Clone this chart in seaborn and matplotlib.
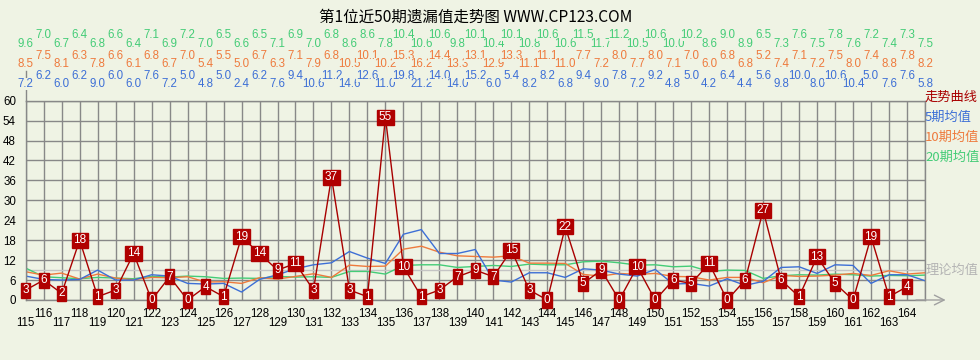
import matplotlib.pyplot as plt
from matplotlib.lines import Line2D
import matplotlib.transforms as mtransforms
import numpy as np
import pandas as pd
import seaborn as sns

# --- data ---
periods = list(range(115, 165))
miss = [3, 6, 2, 18, 1, 3, 14, 0, 7, 0, 4, 1, 19, 14, 9, 11, 3, 37, 3, 1,
        55, 10, 1, 3, 7, 9, 7, 15, 3, 0, 22, 5, 9, 0, 10, 0, 6, 5, 11, 0,
        6, 27, 6, 1, 13, 5, 0, 19, 1, 4]

# moving averages are shown one period ahead (115 .. 165)
ma_periods = list(range(115, 166))
ma5 = [7.2, 6.2, 6.0, 6.2, 9.0, 6.0, 6.0, 7.6, 7.2, 5.0,
       4.8, 5.0, 2.4, 6.2, 7.6, 9.4, 10.6, 11.2, 14.6, 12.6,
       11.0, 19.8, 21.2, 14.0, 14.0, 15.2, 6.0, 5.4, 8.2, 8.2,
       6.8, 9.4, 9.0, 7.8, 7.2, 9.2, 4.8, 5.0, 4.2, 6.4,
       4.4, 5.6, 9.8, 10.0, 8.0, 10.6, 10.4, 5.0, 7.6, 7.6,
       5.8]
ma10 = [8.5, 7.5, 8.1, 6.3, 7.8, 6.6, 6.1, 6.8, 6.7, 7.0,
        5.4, 5.5, 5.0, 6.7, 6.3, 7.1, 7.9, 6.8, 10.5, 10.1,
        10.2, 15.3, 16.2, 14.4, 13.3, 13.1, 12.9, 13.3, 11.1, 11.1,
        11.0, 7.7, 7.2, 8.0, 7.7, 8.0, 7.1, 7.0, 6.0, 6.8,
        6.8, 5.2, 7.4, 7.1, 7.2, 7.5, 8.0, 7.4, 8.8, 7.8,
        8.2]
ma20 = [9.6, 7.0, 6.7, 6.4, 6.8, 6.6, 6.4, 7.1, 6.9, 7.2,
        7.0, 6.5, 6.6, 6.5, 7.1, 6.9, 7.0, 6.8, 8.6, 8.6,
        7.8, 10.4, 10.6, 10.6, 9.8, 10.1, 10.4, 10.1, 10.8, 10.6,
        10.6, 11.5, 11.7, 11.2, 10.5, 10.6, 10.0, 10.2, 8.6, 9.0,
        8.9, 6.5, 7.3, 7.6, 7.5, 7.8, 7.6, 7.2, 7.4, 7.3,
        7.5]
theory_mean = 9
y_ticks = list(range(0, 61, 6))

title = "第1位近50期遗漏值走势图 WWW.CP123.COM"
legend_names = ["走势曲线", "5期均值", "10期均值", "20期均值"]

# --- styling ---
bg = "#EFF3E4"
c_red = "#A80000"
c_blue = "#3D6FD6"
c_orange = "#EE7A3D"
c_green = "#44CC77"
c_grid = "#888888"
cjk = ["Noto Sans CJK SC", "DejaVu Sans"]

plt.rcParams["font.family"] = ["Liberation Sans", "DejaVu Sans"]

W, H = 980, 360
fig = plt.figure(figsize=(W / 100, H / 100), dpi=100, facecolor=bg)
ax_left, ax_right, ax_top, ax_bottom = 25.7, 925, 100.7, 300
ax = fig.add_axes([ax_left / W, 1 - ax_bottom / H,
                   (ax_right - ax_left) / W, (ax_bottom - ax_top) / H])
ax.set_facecolor(bg)

df_miss = pd.DataFrame({"period": periods, "miss": miss})
df_ma = pd.DataFrame({"period": ma_periods, "ma5": ma5, "ma10": ma10, "ma20": ma20})

# average lines
sns.lineplot(data=df_ma, x="period", y="ma20", color=c_green, linewidth=1, ax=ax, zorder=2)
sns.lineplot(data=df_ma, x="period", y="ma10", color=c_orange, linewidth=1, ax=ax, zorder=2)
sns.lineplot(data=df_ma, x="period", y="ma5", color=c_blue, linewidth=1, ax=ax, zorder=2)
ax.axhline(theory_mean, color="#C4C4C4", linewidth=1, zorder=1.5)

# trend line with value boxes
sns.lineplot(data=df_miss, x="period", y="miss", color=c_red, linewidth=1, ax=ax, zorder=3)
for p, v in zip(periods, miss):
    ax.text(p, v, str(v), ha="center", va="center", color="white", fontsize=8.5,
            zorder=4, bbox=dict(boxstyle="square,pad=0.13", fc="#B00000", ec="#B00000"))

# axes, grid, ticks
ax.set_xlim(ma_periods[0], ma_periods[-1])
ax.set_ylim(y_ticks[0], y_ticks[-1])
ax.set_yticks(y_ticks)
even = [p for p in ma_periods if p % 2 == 0]
odd = [p for p in ma_periods if p % 2 == 1]
ax.set_xticks(even)
ax.set_xticklabels([str(p) if p in periods else "" for p in even])
ax.set_xticks(odd, minor=True)
ax.set_xticklabels([str(p) if p in periods else "" for p in odd], minor=True)
ax.tick_params(axis="both", which="both", length=0, labelsize=8.3, colors="black")
ax.tick_params(axis="x", which="major", pad=6)
ax.tick_params(axis="x", which="minor", pad=12.5)
ax.tick_params(axis="y", pad=7)
ax.grid(True, which="both", color=c_grid, linewidth=1)
ax.set_axisbelow(True)
for s in ax.spines.values():
    s.set_color(c_grid)
    s.set_linewidth(1)
ax.set_xlabel("")
ax.set_ylabel("")

# left axis runs up into the number rows, x axis ends with an arrow
ax.add_line(Line2D([0, 0], [1, 1 + 30 / (ax_bottom - ax_top)], transform=ax.transAxes,
                   color=c_grid, linewidth=1, clip_on=False, zorder=0))
ax.annotate("", xy=(1.023, 0), xytext=(0.99, 0), xycoords="axes fraction",
            arrowprops=dict(arrowstyle="->,head_length=0.7,head_width=0.35",
                            color="#A0A0A0", lw=1, shrinkA=0, shrinkB=0))

# number rows above the chart (staggered)
trans = mtransforms.blended_transform_factory(ax.transData, fig.transFigure)
rows = [(ma20, c_green, 35, 44), (ma10, c_orange, 56, 64), (ma5, c_blue, 76, 84)]
for vals, col, y_up, y_low in rows:
    for i, (p, v) in enumerate(zip(ma_periods, vals)):
        ypx = y_low if i % 2 == 0 else y_up
        ax.text(p, 1 - ypx / H, f"{v:.1f}", transform=trans, ha="center", va="center",
                color=col, fontsize=8.3, clip_on=False,
                bbox=dict(boxstyle="square,pad=0", fc=bg, ec="none"))

# title and right-side legend
fig.text((ax_left + ax_right) / 2 / W, 1 - 17 / H, title, ha="center", va="center",
         fontsize=11.2, color="black", family=cjk)
legend_cols = [c_red, c_blue, c_orange, c_green]
for k, (name, col) in enumerate(zip(legend_names, legend_cols)):
    fig.text(ax_right / W, 1 - (97 + 20 * k) / H, name, ha="left", va="center",
             fontsize=9.5, color=col, family=cjk)
trans_r = mtransforms.blended_transform_factory(ax.transAxes, ax.transData)
ax.text(1.001, theory_mean, "理论均值", transform=trans_r, ha="left", va="center",
        fontsize=9.5, color="#B4B4B4", family=cjk, clip_on=False)

fig.savefig("out.png", dpi=100, facecolor=bg)
